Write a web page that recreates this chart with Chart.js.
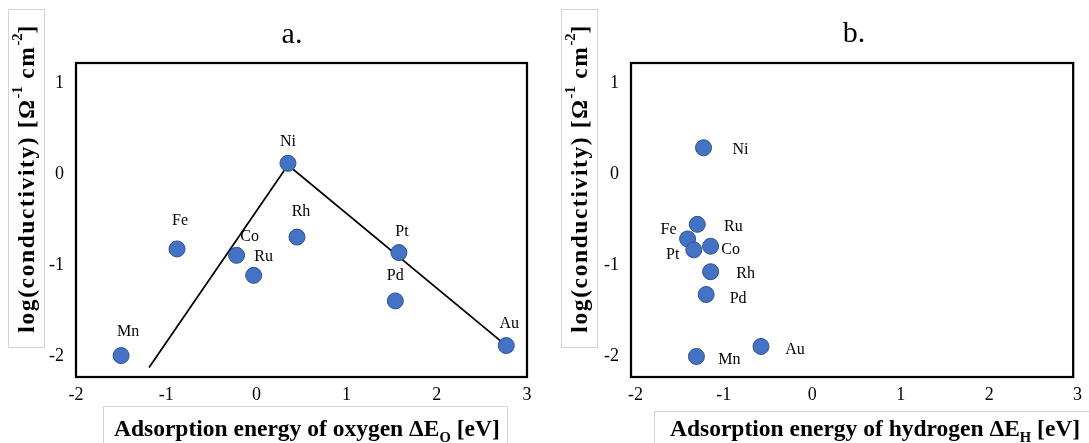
<!DOCTYPE html>
<html>
<head>
<meta charset="utf-8">
<script src="https://cdn.jsdelivr.net/npm/chart.js@4.4.1/dist/chart.umd.min.js"></script>
<style>
  html, body { margin: 0; padding: 0; background: #fff; }
  #page { position: relative; width: 1089px; height: 443px; overflow: hidden; font-family: 'Liberation Serif', 'Times New Roman', serif; color: #000; }
  .panel { position: absolute; top: 0; }
  .panel-title { position: absolute; font-size: 30px; line-height: 30px; transform: translateX(-50%); white-space: nowrap; }
  .ytitle { position: absolute; box-sizing: border-box; border: 1px solid #d4d4d4; display: flex; align-items: center; justify-content: center; }
  .ytitle span { writing-mode: vertical-rl; transform: rotate(180deg); font-weight: bold; font-size: 23.5px; letter-spacing: 1.6px; white-space: nowrap; }
  .xtitle { position: absolute; box-sizing: border-box; border: 1px solid #d4d4d4; font-weight: bold; font-size: 23.5px; line-height: 26px; white-space: nowrap; }
  sup, sub { font-size: 0.62em; line-height: 0; letter-spacing: 0; }
</style>
</head>
<body>
<div id="page">
  <div class="panel" style="left:0"><canvas id="chartA" width="545" height="443"></canvas></div>
  <div class="panel" style="left:545px"><canvas id="chartB" width="544" height="443"></canvas></div>

  <div class="panel-title" style="left:292px; top:18px">a.</div>
  <div class="panel-title" style="left:854px; top:17px">b.</div>

  <div class="ytitle" style="left:8px; top:9px; width:37px; height:339px"><span>log(conductivity) [Ω<sup>-1</sup> cm<sup>-2</sup>]</span></div>
  <div class="ytitle" style="left:561px; top:9px; width:37px; height:339px"><span>log(conductivity) [Ω<sup>-1</sup> cm<sup>-2</sup>]</span></div>

  <div class="xtitle" style="left:103px; top:406px; width:405px; height:40px; padding-top:8px; padding-left:10px">Adsorption energy of oxygen ΔE<sub>O</sub> [eV]</div>
  <div class="xtitle" style="left:654px; top:411px; width:440px; height:40px; padding-top:3px; padding-left:15px">Adsorption energy of hydrogen ΔE<sub>H</sub> [eV]</div>
</div>

<script>
// ── Data ───────────────────────────────────────────────────────────────────
const metals         = ['Mn', 'Fe', 'Co', 'Ru', 'Ni', 'Rh', 'Pt', 'Pd', 'Au'];
const oxygenEnergy   = [-1.50, -0.88, -0.22, -0.03, 0.35, 0.45, 1.58, 1.54, 2.77];
const conductivityA  = [-1.99, -0.82, -0.89, -1.11, 0.12, -0.69, -0.86, -1.39, -1.88];
const hydrogenEnergy = [-1.31, -1.41, -1.15, -1.30, -1.23, -1.15, -1.34, -1.20, -0.58];
const conductivityB  = [-2.00, -0.71, -0.79, -0.55, 0.29, -1.07, -0.83, -1.32, -1.89];

// volcano trend line in panel a
const volcanoX = [-1.19, 0.35, 2.77];
const volcanoY = [-2.12, 0.10, -1.88];

const xTicks = [-2, -1, 0, 1, 2, 3];
const yTicks = [-2, -1, 0, 1];

// ── Label placement (pixel offsets from the marker centre) ─────────────────
const labelOffsetsA = {
    Mn: [7, -24], Fe: [3, -28], Co: [13, -19], Ru: [10, -19], Ni: [0, -21],
    Rh: [4, -25], Pt: [3, -21], Pd: [0, -25], Au: [3, -22]
};
const labelOffsetsB = {
    Mn: [33, 3], Fe: [-19, -9], Co: [20, 4], Ru: [36, 2], Ni: [37, 2],
    Rh: [35, 2], Pt: [-21, 5], Pd: [32, 4], Au: [34, 3]
};

const blue = '#4472C4';
const blueEdge = '#2F528F';
const serif = "'Liberation Serif', 'Times New Roman', serif";

// ── Plugins ────────────────────────────────────────────────────────────────
const frameBox = {
    id: 'frameBox',
    beforeDatasetsDraw(chart) {
        const { ctx, chartArea: a } = chart;
        ctx.save();
        ctx.strokeStyle = '#000';
        ctx.lineWidth = 2.25;
        ctx.strokeRect(a.left, a.top, a.right - a.left, a.bottom - a.top);
        ctx.restore();
    }
};

const pointLabels = {
    id: 'pointLabels',
    afterDatasetsDraw(chart, args, opts) {
        const { ctx } = chart;
        const meta = chart.getDatasetMeta(0);
        ctx.save();
        ctx.font = '16px ' + serif;
        ctx.fillStyle = '#000';
        ctx.textAlign = 'center';
        ctx.textBaseline = 'middle';
        meta.data.forEach((pt, i) => {
            const name = metals[i];
            const off = opts.offsets[name] || [0, -20];
            ctx.fillText(name, pt.x + off[0], pt.y + off[1]);
        });
        ctx.restore();
    }
};

// ── Chart factory ──────────────────────────────────────────────────────────
function makePanel(canvasId, xs, ys, xRange, area, offsets, extraSets) {
    const canvas = document.getElementById(canvasId);
    const points = xs.map((x, i) => ({ x: x, y: ys[i] }));
    const datasets = [{
        data: points,
        backgroundColor: blue,
        borderColor: blueEdge,
        borderWidth: 1,
        pointRadius: 8,
        pointHoverRadius: 8
    }].concat(extraSets || []);

    return new Chart(canvas, {
        type: 'scatter',
        data: { datasets: datasets },
        plugins: [frameBox, pointLabels],
        options: {
            responsive: false,
            animation: false,
            devicePixelRatio: 1,
            layout: { padding: { left: 0, top: area.top, right: canvas.width - area.right, bottom: 0 } },
            plugins: {
                legend: { display: false },
                tooltip: { enabled: false },
                pointLabels: { offsets: offsets }
            },
            scales: {
                x: {
                    type: 'linear',
                    min: xRange[0],
                    max: xRange[1],
                    grid: { display: false, drawTicks: false },
                    border: { display: false },
                    afterBuildTicks: s => { s.ticks = xTicks.map(v => ({ value: v })); },
                    afterFit: s => { s.height = canvas.height - area.bottom; },
                    ticks: { font: { family: serif, size: 18 }, color: '#000', padding: 7, maxRotation: 0 }
                },
                y: {
                    type: 'linear',
                    min: -2.225,
                    max: 1.22,
                    grid: { display: false, drawTicks: false },
                    border: { display: false },
                    afterBuildTicks: s => { s.ticks = yTicks.map(v => ({ value: v })); },
                    afterFit: s => { s.width = area.left; },
                    ticks: { font: { family: serif, size: 18 }, color: '#000', padding: 12 }
                }
            }
        }
    });
}

const volcanoLine = {
    type: 'line',
    data: volcanoX.map((x, i) => ({ x: x, y: volcanoY[i] })),
    showLine: true,
    borderColor: '#000',
    borderWidth: 1.75,
    pointRadius: 0,
    fill: false,
    tension: 0
};

makePanel('chartA', oxygenEnergy, conductivityA, [-2, 3],
    { left: 76, right: 527, top: 63, bottom: 377 }, labelOffsetsA, [volcanoLine]);
makePanel('chartB', hydrogenEnergy, conductivityB, [-2.05, 2.95],
    { left: 86, right: 537, top: 63, bottom: 377 }, labelOffsetsB, []);
</script>
</body>
</html>
